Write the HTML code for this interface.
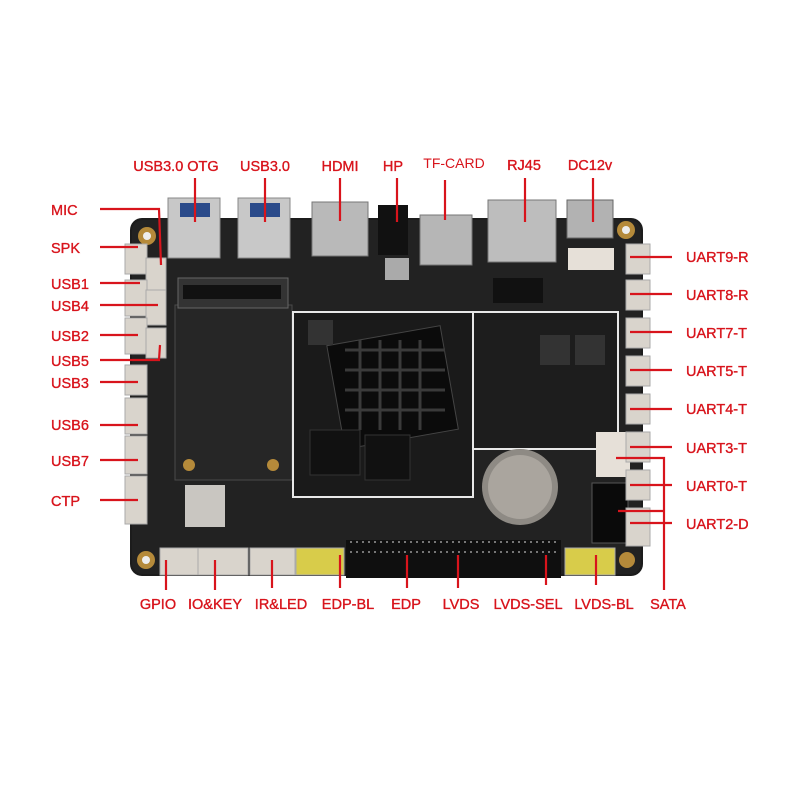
<!DOCTYPE html>
<html><head><meta charset="utf-8"><style>
html,body{margin:0;padding:0;background:#fff;}
svg{display:block}
text{font-family:"Liberation Sans",Arial,sans-serif;fill:#d8141c;font-size:14.5px;stroke:#d8141c;stroke-width:0.35;}
</style></head><body>
<svg width="800" height="800" viewBox="0 0 800 800" xmlns="http://www.w3.org/2000/svg">
<rect width="800" height="800" fill="#fff"/>
<rect x="130" y="218" width="513" height="358" rx="12" fill="#1c1c1c"/>
<rect x="132" y="220" width="509" height="354" rx="11" fill="#222"/>
<rect x="175" y="305" width="117" height="175" fill="#262626" stroke="#4a4a4a"/>
<rect x="178" y="278" width="110" height="30" fill="#333" stroke="#666"/>
<rect x="183" y="285" width="98" height="14" fill="#111"/>
<rect x="293" y="312" width="180" height="185" fill="#1a1a1a" stroke="#e8e8e8" stroke-width="2"/>
<rect x="473" y="312" width="145" height="137" fill="#1d1d1d" stroke="#e8e8e8" stroke-width="2"/>
<rect x="335" y="335" width="115" height="105" transform="rotate(-10 392 387)" fill="#0b0b0b" stroke="#444"/>
<g stroke="#3a3a3a" stroke-width="3">
<line x1="345" y1="350" x2="445" y2="350"/><line x1="345" y1="370" x2="445" y2="370"/>
<line x1="345" y1="390" x2="445" y2="390"/><line x1="345" y1="410" x2="445" y2="410"/>
<line x1="360" y1="340" x2="360" y2="430"/><line x1="380" y1="340" x2="380" y2="430"/>
<line x1="400" y1="340" x2="400" y2="430"/><line x1="420" y1="340" x2="420" y2="430"/>
</g>
<rect x="310" y="430" width="50" height="45" fill="#111" stroke="#333"/>
<rect x="365" y="435" width="45" height="45" fill="#111" stroke="#333"/>
<rect x="308" y="320" width="25" height="25" fill="#333"/>
<rect x="540" y="335" width="30" height="30" fill="#333"/><rect x="575" y="335" width="30" height="30" fill="#333"/>
<circle cx="520" cy="487" r="38" fill="#8e8a84"/>
<circle cx="520" cy="487" r="32" fill="#aaa59e"/>
<rect x="592" y="483" width="36" height="60" fill="#0a0a0a" stroke="#555"/>
<rect x="596" y="432" width="34" height="45" fill="#e6e0d8"/>
<rect x="185" y="485" width="40" height="42" fill="#c9c6c1"/>
<rect x="168" y="198" width="52" height="60" fill="#c8c8c8" stroke="#888"/>
<rect x="180" y="203" width="30" height="14" fill="#2a4a8a"/>
<rect x="238" y="198" width="52" height="60" fill="#c8c8c8" stroke="#888"/>
<rect x="250" y="203" width="30" height="14" fill="#2a4a8a"/>
<rect x="312" y="202" width="56" height="54" fill="#b9b9b9" stroke="#777"/>
<rect x="378" y="205" width="30" height="50" fill="#111"/>
<rect x="385" y="258" width="24" height="22" fill="#aaa"/>
<rect x="420" y="215" width="52" height="50" fill="#b6b6b6" stroke="#777"/>
<rect x="488" y="200" width="68" height="62" fill="#bdbdbd" stroke="#777"/>
<rect x="567" y="200" width="46" height="38" fill="#b2b2b2" stroke="#666"/>
<rect x="568" y="248" width="46" height="22" fill="#e6e0d8"/>
<rect x="493" y="278" width="50" height="25" fill="#111"/>
<circle cx="147" cy="236" r="9" fill="#b58a3a"/><circle cx="147" cy="236" r="4" fill="#eee"/>
<circle cx="626" cy="230" r="9" fill="#b58a3a"/><circle cx="626" cy="230" r="4" fill="#eee"/>
<circle cx="146" cy="560" r="9" fill="#b58a3a"/><circle cx="146" cy="560" r="4" fill="#eee"/>
<circle cx="627" cy="560" r="8" fill="#b58a3a"/>
<circle cx="189" cy="465" r="6" fill="#b58a3a"/><circle cx="273" cy="465" r="6" fill="#b58a3a"/>
<g fill="#d9d4cc" stroke="#aaa">
<rect x="125" y="244" width="22" height="30"/><rect x="146" y="258" width="20" height="32"/>
<rect x="125" y="280" width="22" height="36"/><rect x="146" y="290" width="20" height="35"/>
<rect x="125" y="318" width="22" height="36"/><rect x="146" y="328" width="20" height="30"/>
<rect x="125" y="365" width="22" height="30"/><rect x="125" y="398" width="22" height="36"/>
<rect x="125" y="436" width="22" height="38"/><rect x="125" y="476" width="22" height="48"/>
</g>
<g fill="#d9d4cc" stroke="#aaa">
<rect x="626" y="244" width="24" height="30"/><rect x="626" y="280" width="24" height="30"/>
<rect x="626" y="318" width="24" height="30"/><rect x="626" y="356" width="24" height="30"/>
<rect x="626" y="394" width="24" height="30"/><rect x="626" y="432" width="24" height="30"/>
<rect x="626" y="470" width="24" height="30"/><rect x="626" y="508" width="24" height="38"/>
</g>
<g stroke="#aaa">
<rect x="160" y="548" width="38" height="27" fill="#d9d4cc"/>
<rect x="198" y="548" width="50" height="27" fill="#d9d4cc"/>
<rect x="250" y="548" width="45" height="27" fill="#d9d4cc"/>
<rect x="296" y="548" width="48" height="27" fill="#d8cc4a"/>
<rect x="565" y="548" width="50" height="27" fill="#d8cc4a"/>
</g>
<rect x="346" y="540" width="215" height="38" fill="#0f0f0f"/>
<g stroke="#999" stroke-width="1.5">
<line x1="350" y1="542" x2="558" y2="542" stroke-dasharray="2 4"/>
<line x1="350" y1="552" x2="558" y2="552" stroke-dasharray="2 4"/>
</g>
<g stroke="#d8141c" stroke-width="2.2" fill="none">
<line x1="195" y1="178" x2="195" y2="222"/>
<line x1="265" y1="178" x2="265" y2="222"/>
<line x1="340" y1="178" x2="340" y2="221"/>
<line x1="397" y1="178" x2="397" y2="222"/>
<line x1="445" y1="180" x2="445" y2="220"/>
<line x1="525" y1="178" x2="525" y2="222"/>
<line x1="593" y1="178" x2="593" y2="222"/>
<polyline points="100,209 159,209 161,265"/>
<line x1="100" y1="247" x2="138" y2="247"/>
<line x1="100" y1="283" x2="140" y2="283"/>
<line x1="100" y1="305" x2="158" y2="305"/>
<line x1="100" y1="335" x2="138" y2="335"/>
<polyline points="100,360 159,360 160,345"/>
<line x1="100" y1="382" x2="138" y2="382"/>
<line x1="100" y1="425" x2="138" y2="425"/>
<line x1="100" y1="460" x2="138" y2="460"/>
<line x1="100" y1="500" x2="138" y2="500"/>
<line x1="630" y1="257" x2="672" y2="257"/>
<line x1="630" y1="294" x2="672" y2="294"/>
<line x1="630" y1="332" x2="672" y2="332"/>
<line x1="630" y1="370" x2="672" y2="370"/>
<line x1="630" y1="409" x2="672" y2="409"/>
<line x1="630" y1="447" x2="672" y2="447"/>
<line x1="630" y1="485" x2="672" y2="485"/>
<line x1="630" y1="523" x2="672" y2="523"/>
<polyline points="616,458 664,458 664,590"/>
<line x1="618" y1="511" x2="664" y2="511"/>
<line x1="166" y1="560" x2="166" y2="590"/>
<line x1="215" y1="560" x2="215" y2="590"/>
<line x1="272" y1="560" x2="272" y2="588"/>
<line x1="340" y1="555" x2="340" y2="588"/>
<line x1="407" y1="555" x2="407" y2="588"/>
<line x1="458" y1="555" x2="458" y2="588"/>
<line x1="546" y1="555" x2="546" y2="585"/>
<line x1="596" y1="555" x2="596" y2="585"/>
</g>
<text x="176" y="171" text-anchor="middle">USB3.0 OTG</text>
<text x="265" y="171" text-anchor="middle">USB3.0</text>
<text x="340" y="171" text-anchor="middle">HDMI</text>
<text x="393" y="171" text-anchor="middle">HP</text>
<text x="454" y="168" text-anchor="middle" style="font-size:14px;stroke-width:0">TF-CARD</text>
<text x="524" y="170" text-anchor="middle">RJ45</text>
<text x="590" y="170" text-anchor="middle">DC12v</text>
<g text-anchor="start">
<text x="51" y="215">MIC</text>
<text x="51" y="253">SPK</text>
<text x="51" y="289">USB1</text>
<text x="51" y="311">USB4</text>
<text x="51" y="341">USB2</text>
<text x="51" y="366">USB5</text>
<text x="51" y="388">USB3</text>
<text x="51" y="430">USB6</text>
<text x="51" y="466">USB7</text>
<text x="51" y="506">CTP</text>
<text x="686" y="262">UART9-R</text>
<text x="686" y="300">UART8-R</text>
<text x="686" y="338">UART7-T</text>
<text x="686" y="376">UART5-T</text>
<text x="686" y="414">UART4-T</text>
<text x="686" y="453">UART3-T</text>
<text x="686" y="491">UART0-T</text>
<text x="686" y="529">UART2-D</text>
</g>
<g text-anchor="middle">
<text x="158" y="609">GPIO</text>
<text x="215" y="609">IO&amp;KEY</text>
<text x="281" y="609">IR&amp;LED</text>
<text x="348" y="609">EDP-BL</text>
<text x="406" y="609">EDP</text>
<text x="461" y="609">LVDS</text>
<text x="528" y="609">LVDS-SEL</text>
<text x="604" y="609">LVDS-BL</text>
<text x="668" y="609">SATA</text>
</g>
</svg>
</body></html>
